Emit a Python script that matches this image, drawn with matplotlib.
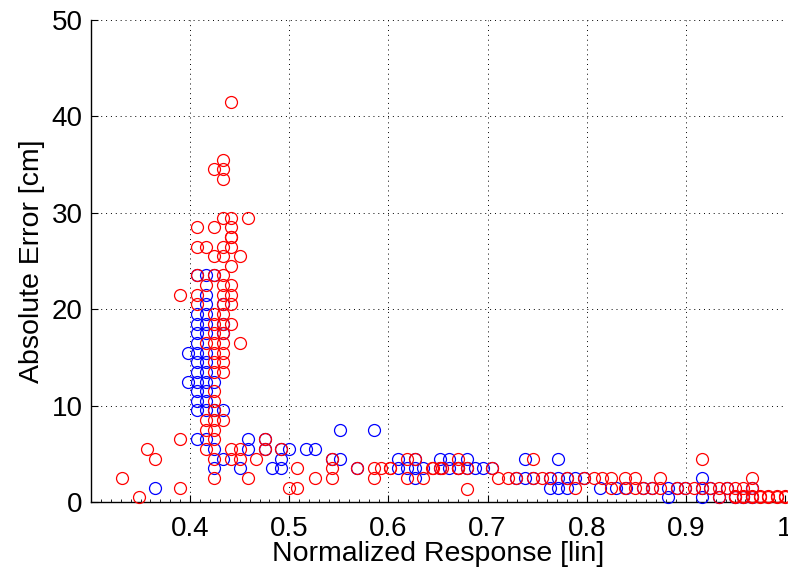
import matplotlib
matplotlib.use('Agg')
import matplotlib.pyplot as plt
from matplotlib.ticker import MultipleLocator, FuncFormatter

plt.rcParams['font.family'] = ['Liberation Sans', 'DejaVu Sans']

# blue series (x = normalized response, y = absolute error in cm)
blue_x = [
    0.398, 0.398,
    0.407, 0.407, 0.407, 0.407, 0.407, 0.407, 0.407, 0.407, 0.407, 0.407, 0.407, 0.407, 0.407,
    0.416, 0.416, 0.416, 0.416, 0.416, 0.416, 0.416, 0.416, 0.416, 0.416, 0.416, 0.416, 0.416, 0.416,
    0.424, 0.424, 0.424, 0.424, 0.424,
    0.433, 0.433, 0.433, 0.433, 0.433,
    0.365, 0.450, 0.458, 0.458, 0.475, 0.475, 0.483, 0.492, 0.492, 0.492,
    0.500, 0.517, 0.526, 0.543, 0.551, 0.551, 0.585, 0.568,
    0.610, 0.610, 0.619, 0.627, 0.627, 0.627, 0.635,
    0.652, 0.652, 0.661, 0.661, 0.670, 0.679, 0.679, 0.687, 0.695, 0.704,
    0.729, 0.738, 0.738, 0.746, 0.763, 0.771, 0.771, 0.780, 0.788, 0.797,
    0.763, 0.771, 0.780,
    0.813, 0.830, 0.840, 0.857, 0.866, 0.882, 0.891, 0.899, 0.916, 0.924, 0.941, 0.967,
    0.916,
    0.882, 0.916, 0.933, 0.950, 0.958, 0.967,
]
blue_y = [
    15.5, 12.5,
    23.5, 19.5, 18.5, 17.5, 16.5, 15.5, 14.5, 13.5, 12.5, 11.5, 10.5, 9.5, 6.5,
    23.5, 21.5, 20.5, 19.5, 18.5, 17.5, 15.5, 14.5, 13.5, 12.5, 11.5, 10.5, 9.5, 6.5,
    23.5, 12.5, 9.5, 5.5, 3.5,
    20.5, 18.5, 17.5, 9.5, 4.5,
    1.5, 3.5, 6.5, 5.5, 6.5, 5.5, 3.5, 5.5, 4.5, 3.5,
    5.5, 5.5, 5.5, 4.5, 4.5, 7.5, 7.5, 3.5,
    3.5, 4.5, 3.5, 3.5, 4.5, 2.5, 3.5,
    4.5, 3.5, 4.5, 3.5, 3.5, 4.5, 3.5, 3.5, 3.5, 3.5,
    2.5, 2.5, 4.5, 2.5, 2.5, 2.5, 4.5, 2.5, 2.5, 2.5,
    1.5, 1.5, 1.5,
    1.5, 1.5, 1.5, 1.5, 1.5, 1.5, 1.5, 1.5, 1.5, 1.5, 1.5, 1.5,
    2.5,
    0.5, 0.5, 0.5, 0.5, 0.5, 0.5,
]

# red series
red_x = [
    0.441, 0.433, 0.424, 0.433, 0.433,
    0.433, 0.441, 0.458, 0.407, 0.424, 0.441, 0.441, 0.441,
    0.407, 0.416, 0.433, 0.441, 0.424, 0.433, 0.450, 0.441,
    0.407, 0.424, 0.433, 0.416, 0.433, 0.441,
    0.390, 0.407, 0.433, 0.441, 0.407, 0.433, 0.441,
    0.424, 0.433, 0.424, 0.433, 0.441, 0.424, 0.433,
    0.416, 0.424, 0.433, 0.450, 0.424, 0.433, 0.424, 0.433, 0.424, 0.433,
    0.424, 0.424, 0.424, 0.416, 0.424, 0.433, 0.416, 0.424,
    0.390, 0.424, 0.475,
    0.356, 0.416, 0.441, 0.450, 0.475, 0.492,
    0.365, 0.424, 0.441, 0.450, 0.466, 0.543,
    0.508, 0.543, 0.568, 0.585, 0.593, 0.602, 0.602, 0.619, 0.627, 0.644, 0.652,
    0.331, 0.424, 0.458, 0.526, 0.543, 0.585, 0.619, 0.635,
    0.390, 0.500, 0.508, 0.348,
    0.645, 0.654, 0.670, 0.670, 0.679, 0.704, 0.670, 0.746,
    0.711, 0.721, 0.729, 0.746, 0.755, 0.763, 0.780, 0.797, 0.807, 0.815,
    0.824, 0.839, 0.849, 0.874, 0.967,
    0.679, 0.788, 0.824, 0.839, 0.849, 0.857, 0.866, 0.874, 0.891, 0.899,
    0.908, 0.916, 0.924, 0.933, 0.941, 0.950, 0.958, 0.967,
    0.916,
    0.933, 0.950, 0.958, 0.967, 0.975, 0.983, 0.992, 1.000,
    0.950, 0.958, 0.967, 0.975, 0.983, 0.992, 1.000,
]
red_y = [
    41.5, 35.5, 34.5, 34.5, 33.5,
    29.5, 29.5, 29.5, 28.5, 28.5, 28.5, 27.5, 27.5,
    26.5, 26.5, 26.5, 26.5, 25.5, 25.5, 25.5, 24.5,
    23.5, 23.5, 23.5, 22.5, 22.5, 22.5,
    21.5, 21.5, 21.5, 21.5, 20.5, 20.5, 20.5,
    19.5, 19.5, 18.5, 18.5, 18.5, 17.5, 17.5,
    16.5, 16.5, 16.5, 16.5, 15.5, 15.5, 14.5, 14.5, 13.5, 13.5,
    11.5, 10.5, 9.5, 8.5, 8.5, 8.5, 7.5, 7.5,
    6.5, 6.5, 6.5,
    5.5, 5.5, 5.5, 5.5, 5.5, 5.5,
    4.5, 4.5, 4.5, 4.5, 4.5, 4.5,
    3.5, 3.5, 3.5, 3.5, 3.5, 3.5, 3.5, 4.5, 4.5, 3.5, 3.5,
    2.5, 2.5, 2.5, 2.5, 2.5, 2.5, 2.5, 2.5,
    1.5, 1.5, 1.5, 0.5,
    3.5, 3.5, 3.5, 3.5, 3.5, 3.5, 4.5, 4.5,
    2.5, 2.5, 2.5, 2.5, 2.5, 2.5, 2.5, 2.5, 2.5, 2.5,
    2.5, 2.5, 2.5, 2.5, 2.5,
    1.4, 1.5, 1.5, 1.5, 1.5, 1.5, 1.5, 1.5, 1.5, 1.5,
    1.5, 1.5, 1.5, 1.5, 1.5, 1.5, 1.5, 1.5,
    4.5,
    0.5, 0.5, 0.5, 0.5, 0.5, 0.5, 0.5, 0.5,
    0.6, 0.6, 0.6, 0.6, 0.6, 0.6, 0.6,
]

x_ticks = [0.4, 0.5, 0.6, 0.7, 0.8, 0.9, 1.0]
y_ticks = [0, 10, 20, 30, 40, 50]

fig = plt.figure(figsize=(7.88, 5.73), dpi=100)
ax = fig.add_axes([0.1155, 0.1239, 0.8807, 0.8411])

ax.plot(blue_x, blue_y, 'o', mfc='none', mec='b', ms=8.6, mew=0.9, clip_on=False, zorder=3)
ax.plot(red_x, red_y, 'o', mfc='none', mec='r', ms=8.6, mew=0.9, clip_on=False, zorder=4)

ax.set_xlim(0.3, 1.0)
ax.set_ylim(0, 50)
ax.set_xticks(x_ticks)
ax.set_yticks(y_ticks)
ax.xaxis.set_major_formatter(FuncFormatter(lambda v, p: '%g' % v))
ax.xaxis.set_minor_locator(MultipleLocator(0.01))

ax.grid(True, which='major', linestyle=(0, (1, 4)), color='black', linewidth=0.7)
ax.spines['top'].set_visible(False)
ax.spines['right'].set_visible(False)
ax.spines['left'].set_linewidth(1.0)
ax.spines['bottom'].set_linewidth(1.0)
ax.tick_params(axis='both', which='both', direction='in', labelsize=20)
ax.tick_params(axis='both', which='major', length=5, width=0.8)
ax.tick_params(axis='x', which='minor', length=2.5, width=0.6)
ax.tick_params(axis='x', which='major', pad=10)
ax.tick_params(axis='y', which='major', pad=6)

ax.set_xlabel('Normalized Response [lin]', fontsize=20.5, labelpad=-1)
ax.set_ylabel('Absolute Error [cm]', fontsize=20.5, labelpad=5)

fig.savefig('out.png', dpi=100)
